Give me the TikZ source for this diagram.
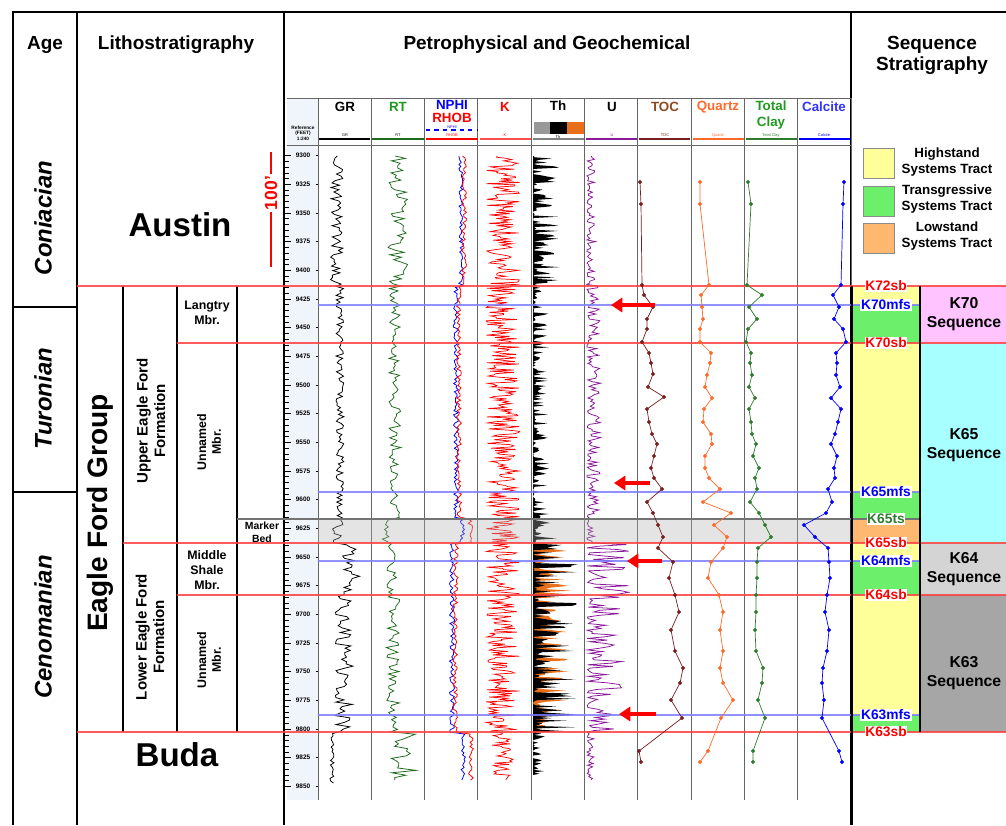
\documentclass[tikz,border=0pt]{standalone}
\usepackage{fontspec}
\setmainfont{Liberation Sans}
\usetikzlibrary{arrows.meta}

\definecolor{hstcol}{HTML}{FFFF99}
\definecolor{tstcol}{HTML}{6CF06C}
\definecolor{lstcol}{HTML}{FFB870}
\definecolor{seqpink}{HTML}{FFC4FF}
\definecolor{seqcyan}{HTML}{A8FFFF}
\definecolor{seqlgray}{HTML}{D4D4D4}
\definecolor{seqgray}{HTML}{A6A6A6}
\definecolor{sbred}{HTML}{FF4040}
\definecolor{mfsblue}{HTML}{7C7CFF}
\definecolor{rtgreen}{HTML}{1E6B1E}
\definecolor{tocbrown}{HTML}{7A1E1E}
\definecolor{tocname}{HTML}{8B4A20}
\definecolor{qtzorange}{HTML}{FF6A2A}
\definecolor{claygreen}{HTML}{2E7D2E}
\definecolor{namegreen}{HTML}{1F9A1F}
\definecolor{upurple}{HTML}{8B1A9B}
\definecolor{deptbg}{HTML}{F0F5FB}
\definecolor{thorange}{HTML}{E8701A}

\begin{document}
\begin{tikzpicture}[x=0.025cm, y=-0.025cm,
  colframe/.style={black, line width=1.8pt},
  trksep/.style={black!60, line width=0.6pt},
  sbline/.style={sbred, line width=2pt, opacity=0.85},
  mfsline/.style={mfsblue, line width=2pt, opacity=0.85},
  tsline/.style={black!55, line width=1.6pt},
  head/.style={font=\fontsize{13.5}{15}\selectfont\bfseries, align=center},
  agelab/.style={font=\fontsize{17}{19}\selectfont\bfseries\itshape, rotate=90},
  unitbig/.style={font=\fontsize{23.5}{26}\selectfont\bfseries},
  fmlab/.style={font=\fontsize{10.7}{12.5}\selectfont\bfseries, rotate=90, align=center},
  mbrlab/.style={font=\fontsize{8.8}{10.5}\selectfont\bfseries, align=center},
  trkname/.style={font=\fontsize{9.5}{11}\selectfont\bfseries, align=center, inner sep=0pt},
  tinylab/.style={font=\fontsize{2.8}{3.2}\selectfont, inner sep=0.3pt, align=center},
  deplab/.style={font=\fontsize{4.6}{5}\selectfont\bfseries, inner sep=0pt},
  surflab/.style={font=\fontsize{9.8}{10.5}\selectfont\bfseries, fill=white, inner sep=0.5pt},
  seqlab/.style={font=\fontsize{11.2}{13.5}\selectfont\bfseries, align=center},
  leglab/.style={font=\fontsize{9.5}{10.8}\selectfont\bfseries, align=center},
  legbox/.style={draw=black!45, line width=0.4pt, minimum width=0.78cm, minimum height=0.76cm, inner sep=0pt},
  ptlog/.style={line width=0.5pt, mark=*, mark size=1.2pt},
  wiggle/.style={line width=0.55pt},
  redarrow/.style={red, line width=3pt, -{Triangle[length=8pt, width=10pt]}},
  declare function={
    grb(\d)=(\d<286)?337:((\d<519)?340:((\d<543)?336:((\d<595)?351:((\d<732)?344:332))));
    gra(\d)=(\d<286)?7:((\d<519)?4:((\d<543)?8:((\d<595)?9:((\d<732)?9:2))));
    rtb(\d)=(\d<286)?398:((\d<519)?395:((\d<543)?386:((\d<595)?392:((\d<732)?393:402))));
    rta(\d)=(\d<286)?10:((\d<519)?6:((\d<543)?4:((\d<595)?5:((\d<732)?7:14))));
    nb(\d)=(\d<286)?461:((\d<519)?456:((\d<543)?462:((\d<595)?452:((\d<732)?452:463))));
    rb(\d)=(\d<286)?464:((\d<519)?459:((\d<543)?470:((\d<595)?456:((\d<732)?455:471))));
    ka(\d)=(\d<732)?17:11;
    tha(\d)=(\d<286)?27:((\d<519)?16:((\d<543)?28:((\d<595)?46:((\d<732)?46:12))));
    ua(\d)=(\d<286)?9:((\d<519)?14:((\d<543)?8:((\d<595)?42:((\d<732)?36:7))));
    dy(\d)=155.5+(\d-9300)*1.147;
  }]
\useasboundingbox (0,0) rectangle (1006,825);
\pgfmathsetseed{11}

% --- 1. backgrounds ---
\fill[deptbg] (287,98) rectangle (318,800);
\fill[seqpink] (920,286) rectangle (1006,343);
\fill[seqcyan] (920,343) rectangle (1006,543);
\fill[seqlgray] (920,543) rectangle (1006,595);
\fill[seqgray] (920,595) rectangle (1006,732);
% systems tracts
\fill[hstcol] (852,286) rectangle (920,305);
\fill[tstcol] (852,305) rectangle (920,343);
\fill[hstcol] (852,343) rectangle (920,492);
\fill[tstcol] (852,492) rectangle (920,519);
\fill[lstcol] (852,519) rectangle (920,543);
\fill[hstcol] (852,543) rectangle (920,561);
\fill[tstcol] (852,561) rectangle (920,595);
\fill[hstcol] (852,595) rectangle (920,715);
\fill[tstcol] (852,715) rectangle (920,732);

% --- 2. frame and headers ---
\draw[colframe] (13,825) -- (13,12) -- (1006,12);
\foreach \xc in {77,284,851} \draw[colframe] (\xc,12) -- (\xc,825);
\node[head] (hAge) at (45,45) {Age};
\node[head] (hLith) at (176,45) {Lithostratigraphy};
\node[head] (hPetro) at (547,45) {Petrophysical and Geochemical};
\node[head] (hSeq) at (932,55) {Sequence\\Stratigraphy};

% --- 3. age column ---
\draw[colframe] (13,307) -- (77,307);
\draw[colframe] (13,492) -- (77,492);
\node[agelab] (aConi) at (43,218) {Coniacian};
\node[agelab] (aTuro) at (43,399) {Turonian};
\node[agelab] (aCeno) at (43,627) {Cenomanian};

% --- 4. lithostratigraphy ---
\foreach \xc in {123,177,237} \draw[colframe] (\xc,286) -- (\xc,732);
\node[unitbig] (uAustin) at (180,225) {Austin};
\node[unitbig] (uBuda) at (177,755) {Buda};
\node[font=\fontsize{20}{22}\selectfont\bfseries, rotate=90] (uEFG) at (100,513) {Eagle Ford Group};
\node[fmlab] (fUpper) at (151,421) {Upper Eagle Ford\\Formation};
\node[fmlab] (fLower) at (150,637) {Lower Eagle Ford\\Formation};
\node[mbrlab] (mLang) at (207,313) {Langtry\\Mbr.};
\node[mbrlab, rotate=90] (mUnU) at (209,442) {Unnamed\\Mbr.};
\node[mbrlab] (mMid) at (207,570) {Middle\\Shale\\Mbr.};
\node[mbrlab, rotate=90] (mUnL) at (209,660) {Unnamed\\Mbr.};
\node[mbrlab, font=\fontsize{7.4}{9}\selectfont\bfseries] (mMark) at (262,532) {Marker\\Bed};

% 100 ft scale bar
\coordinate (barTop) at (271,152);
\coordinate (barBot) at (271,267);
\draw[red, line width=1pt] (barTop) -- (barBot);
\node[text=red, fill=white, font=\fontsize{12.5}{13}\selectfont\bfseries, rotate=90, inner sep=1pt] (bar100) at (271,193) {100'};

% --- 5. depth track and log headers ---
\foreach \k in {0,...,10} \draw[trksep] ({318+\k*53.3},98) -- ({318+\k*53.3},800);
\draw[trksep] (287,98) -- (851,98);
\draw[trksep] (287,145) -- (851,145);
\node[tinylab, font=\fontsize{3.4}{3.8}\selectfont\bfseries] (dRef) at (303,133) {Reference\\(FEET)\\1:240};
\foreach \d in {9300,9305,...,9850} \draw[black, line width=0.3pt] (285,{dy(\d)}) -- (288.5,{dy(\d)});
\foreach \d in {9300,9325,...,9850} {
  \draw[black, line width=0.4pt] (285,{dy(\d)}) -- (291,{dy(\d)});
  \draw[black, line width=0.3pt] (315.5,{dy(\d)}) -- (318,{dy(\d)});
  \node[deplab] (dl\d) at (303,{dy(\d)}) {\d};
}

\node[trkname] (nGR) at (345,107) {GR};
\node[trkname, text=namegreen] (nRT) at (398,107) {RT};
\node[trkname, text=blue] (nNPHI) at (452,105) {NPHI};
\node[trkname, text=red] (nRHOB) at (452,117.5) {RHOB};
\node[trkname, text=red] (nK) at (505,107) {K};
\node[trkname] (nTh) at (558,106) {Th};
\node[trkname] (nU) at (612,107) {U};
\node[trkname, text=tocname] (nTOC) at (665,107) {TOC};
\node[trkname, text=qtzorange] (nQtz) at (718,107) {Quartz};
\node[trkname, text=namegreen] (nClay) at (771,115) {Total\\Clay};
\node[trkname, text=blue!80] (nCalc) at (824,107) {Calcite};

% scale lines in header
\draw[black, line width=1pt] (319,139) -- (370,139);
\draw[rtgreen, line width=1pt] (372,139) -- (424,139);
\draw[red, line width=1pt] (426,139) -- (478,139);
\draw[blue, line width=0.8pt, dashed] (426,130) -- (478,130);
\draw[red!70, line width=0.8pt] (480,139) -- (531,139);
\draw[black!50, line width=0.8pt] (533,139) -- (584,139);
\draw[upurple, line width=0.8pt] (586,139) -- (637,139);
\draw[tocbrown, line width=0.8pt] (639,139) -- (690,139);
\draw[qtzorange, line width=0.8pt] (693,139) -- (744,139);
\draw[claygreen, line width=0.8pt] (746,139) -- (797,139);
\draw[blue, line width=0.8pt] (799,139) -- (850,139);
\fill[black!40] (534,122) rectangle (550,134);
\fill[black] (550,122) rectangle (567,134);
\fill[thorange] (567,122) rectangle (584,134);
\node[tinylab] (sGR) at (345,135.5) {GR};
\node[tinylab] (sRT) at (398,135.5) {RT};
\node[tinylab, text=blue] (sNPHI) at (452,127.6) {NPHI};
\node[tinylab, text=red] (sRHOB) at (452,135.5) {RHOB};
\node[tinylab, text=red] (sK) at (505,135.5) {K};
\node[tinylab] (sTh) at (558,137) {Th};
\node[tinylab, text=upurple] (sU) at (612,135.5) {U};
\node[tinylab, text=tocbrown] (sTOC) at (665,135.5) {TOC};
\node[tinylab, text=qtzorange] (sQtz) at (718,135.5) {Quartz};
\node[tinylab, text=claygreen] (sClay) at (771,135.5) {Total Clay};
\node[tinylab, text=blue] (sCalc) at (824,135.5) {Calcite};

% --- 6. wireline logs ---
\draw[black, wiggle] plot[domain=156:783, samples=280, variable=\t] ({grb(\t)+gra(\t)*rand}, \t);
\draw[rtgreen, wiggle] plot[domain=156:780, samples=260, variable=\t] ({rtb(\t)+rta(\t)*rand}, \t);
\draw[blue, wiggle] plot[domain=156:780, samples=300, variable=\t] ({nb(\t)+2.5*rand}, \t);
\draw[red, wiggle] plot[domain=156:780, samples=300, variable=\t] ({rb(\t)+2.5*rand}, \t);
\draw[red, line width=0.5pt] plot[domain=156:780, samples=520, variable=\t] ({503+ka(\t)*rand}, \t);
% thorium with orange lobes
\fill[thorange] (533,543) -- plot[domain=543:732, samples=120, variable=\t] ({533+38*pow(abs(rand),2)}, \t) -- (533,732) -- cycle;
\fill[black] (533,156) -- plot[domain=156:775, samples=480, variable=\t] ({533+tha(\t)*pow(abs(rand),2.3)}, \t) -- (533,775) -- cycle;
\draw[upurple, wiggle] plot[domain=156:780, samples=380, variable=\t] ({587+ua(\t)*pow(abs(rand),1.5)}, \t);

% marker bed shading
\fill[black!30, opacity=0.35] (318,519) rectangle (851,543);

% --- 7. surfaces ---
\draw[sbline] (77,286) -- (1006,286);
\draw[sbline] (177,343) -- (1006,343);
\draw[sbline] (123,543) -- (1006,543);
\draw[sbline] (177,595) -- (1006,595);
\draw[sbline] (77,732) -- (1006,732);
\foreach \yy in {305,492,561,715} \draw[mfsline] (318,\yy) -- (920,\yy);
\draw[tsline] (237,519) -- (920,519);
\draw[colframe] (852,286) -- (852,825);
\draw[line width=1.4pt] (920,286) -- (920,732);

% --- 8. core data logs ---
\draw[tocbrown, ptlog] plot coordinates {(640,182) (641,204) (642,285) (644,295) (653,307) (647,319) (647,329) (642,342) (649,353) (651,363) (653,374) (648,387) (664,397) (647,409) (649,422) (652,434) (657,444) (654,456) (651,468) (654,478) (662,489) (647,502) (653,513) (658,525) (663,537) (658,548) (673,562) (669,578) (675,595) (679,612) (671,630) (675,651) (683,668) (680,683) (671,700) (682,718) (639,751) (641,762)};
\draw[qtzorange, ptlog] plot coordinates {(700,182) (700,204) (709,285) (701,295) (702,307) (703,319) (700,329) (700,342) (711,353) (710,363) (707,375) (705,387) (712,398) (704,409) (703,422) (711,434) (712,444) (705,456) (705,468) (709,478) (720,489) (703,502) (731,513) (714,525) (727,537) (723,548) (711,562) (708,578) (719,595) (723,612) (720,630) (723,651) (720,668) (723,683) (733,700) (721,718) (708,751) (700,762)};
\draw[claygreen, ptlog] plot coordinates {(748,182) (751,204) (747,285) (762,295) (749,307) (757,319) (748,329) (746,342) (751,353) (750,363) (752,375) (749,387) (755,398) (749,409) (751,422) (752,434) (756,444) (753,456) (759,468) (755,478) (757,489) (750,502) (759,513) (765,525) (771,537) (758,548) (757,562) (757,578) (756,595) (756,612) (755,630) (756,651) (763,668) (762,683) (758,700) (765,718) (753,751) (753,762)};
\draw[blue, ptlog] plot coordinates {(844,182) (843,204) (841,285) (833,295) (839,307) (834,319) (843,329) (846,342) (836,353) (837,363) (836,375) (840,387) (831,398) (841,409) (838,422) (835,434) (831,444) (837,456) (834,468) (835,478) (828,489) (832,502) (826,513) (804,525) (815,537) (828,548) (829,562) (830,578) (827,595) (825,612) (829,630) (827,651) (823,668) (822,683) (824,700) (822,718) (839,751) (842,762)};

% --- 9. MFS arrows ---
\coordinate (a1s) at (655,305); \coordinate (a1e) at (611,305);
\coordinate (a2s) at (650,483); \coordinate (a2e) at (614,483);
\coordinate (a3s) at (662,561); \coordinate (a3e) at (627,561);
\coordinate (a4s) at (656,714); \coordinate (a4e) at (619,714);
\foreach \n in {1,...,4} \draw[redarrow] (a\n s) -- (a\n e);

% --- 10. surface labels and sequences ---
\node[surflab, text=red] (sK72sb) at (886,286) {K72sb};
\node[surflab, text=blue] (sK70mfs) at (886,305) {K70mfs};
\node[surflab, text=red] (sK70sb) at (886,343) {K70sb};
\node[surflab, text=blue] (sK65mfs) at (886,492) {K65mfs};
\node[surflab, text=claygreen] (sK65ts) at (886,519) {K65ts};
\node[surflab, text=red] (sK65sb) at (886,543) {K65sb};
\node[surflab, text=blue] (sK64mfs) at (886,561) {K64mfs};
\node[surflab, text=red] (sK64sb) at (886,595) {K64sb};
\node[surflab, text=blue] (sK63mfs) at (886,715) {K63mfs};
\node[surflab, text=red] (sK63sb) at (886,732) {K63sb};

\node[seqlab] (qK70) at (964,314) {K70\\Sequence};
\node[seqlab] (qK65) at (964,445) {K65\\Sequence};
\node[seqlab] (qK64) at (964,569) {K64\\Sequence};
\node[seqlab] (qK63) at (964,673) {K63\\Sequence};

% --- 11. legend ---
\node[legbox, fill=hstcol] (lgH) at (878.5,163.5) {};
\node[legbox, fill=tstcol] (lgT) at (878.5,201) {};
\node[legbox, fill=lstcol] (lgL) at (878.5,238) {};
\node[leglab] (lgHt) at (947,162) {Highstand\\Systems Tract};
\node[leglab] (lgTt) at (947,199) {Transgressive\\Systems Tract};
\node[leglab] (lgLt) at (947,236) {Lowstand\\Systems Tract};

\end{tikzpicture}
\end{document}
